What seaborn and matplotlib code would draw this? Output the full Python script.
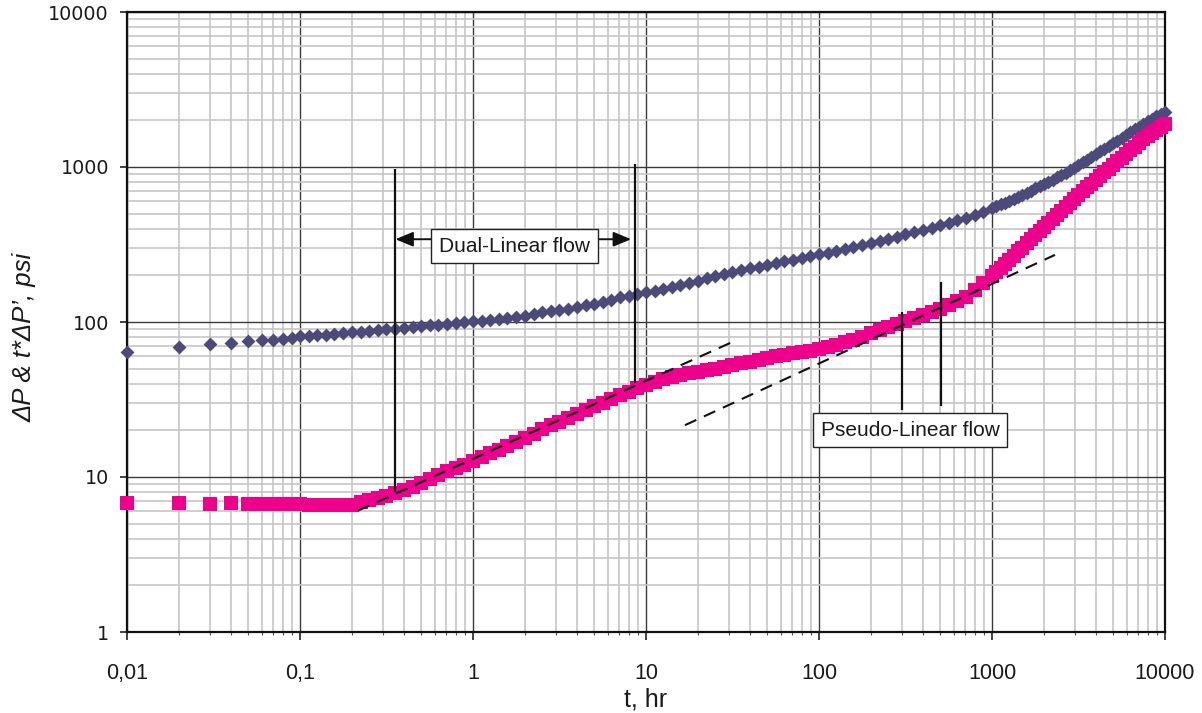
import numpy as np
import pandas as pd
import matplotlib
matplotlib.use("Agg")
import matplotlib.pyplot as plt
import seaborn as sns
from matplotlib import font_manager as fm
from matplotlib.ticker import LogLocator

# ---------------- data ----------------
T = [0.01, 0.02, 0.03, 0.04, 0.05, 0.06, 0.07, 0.08, 0.09,
     0.1, 0.112, 0.126, 0.141, 0.158, 0.178, 0.2, 0.224, 0.251, 0.282,
     0.316, 0.355, 0.398, 0.447, 0.501, 0.562, 0.631, 0.708, 0.794, 0.891,
     1, 1.12, 1.26, 1.41, 1.58, 1.78, 2, 2.24, 2.51, 2.82,
     3.16, 3.55, 3.98, 4.47, 5.01, 5.62, 6.31, 7.08, 7.94, 8.91,
     10, 11.2, 12.6, 14.1, 15.8, 17.8, 20, 22.4, 25.1, 28.2,
     31.6, 35.5, 39.8, 44.7, 50.1, 56.2, 63.1, 70.8, 79.4, 89.1,
     100, 112, 126, 141, 158, 178, 200, 224, 251, 282,
     316, 355, 398, 447, 501, 562, 631, 708, 794, 891,
     1000, 1059, 1122, 1189, 1259, 1334, 1413, 1496, 1585, 1679,
     1778, 1884, 1995, 2113, 2239, 2371, 2512, 2661, 2818, 2985,
     3162, 3350, 3548, 3758, 3981, 4217, 4467, 4732, 5012, 5309,
     5623, 5957, 6310, 6683, 7079, 7499, 7943, 8414, 8913, 9441, 10000]

DELTA_P = [64, 69, 72, 73.5, 75.5, 76.5, 77, 78, 78.5,
           81, 81, 82, 83, 84, 85, 86, 86.5, 87.5, 88.5,
           89.5, 90.5, 91.5, 93, 94, 95, 96, 97, 98.5, 100,
           101, 102, 103.5, 105, 106.5, 108, 110, 113, 116, 118,
           120, 122, 125, 128, 131, 135, 139, 144, 148, 151,
           155, 159, 163, 167, 172, 179, 185, 191, 197, 204,
           210, 217, 223, 228, 234, 240, 246, 252, 259, 266,
           273, 280, 288, 296, 305, 314, 325, 334, 344, 356,
           370, 382, 394, 405, 420, 434, 452, 470, 488, 512,
           540, 557, 573, 590, 606, 622, 640, 660, 682, 705,
           728, 752, 777, 800, 828, 857, 887, 920, 953, 989,
           1030, 1072, 1116, 1162, 1210, 1260, 1311, 1365, 1422, 1480,
           1541, 1604, 1675, 1750, 1825, 1900, 1980, 2050, 2120, 2200, 2280]

DERIV = [6.75, 6.75, 6.7, 6.75, 6.7, 6.7, 6.7, 6.7, 6.65,
         6.65, 6.6, 6.55, 6.55, 6.55, 6.55, 6.6, 6.9, 7.1, 7.3,
         7.55, 7.85, 8.2, 8.6, 9.1, 9.7, 10.3, 10.9, 11.4, 12.0,
         12.7, 13.4, 14.2, 15.0, 15.9, 16.8, 17.8, 19.0, 20.3, 21.5,
         22.8, 24.2, 25.6, 27.1, 28.6, 30.2, 31.9, 33.6, 35.5, 37.3,
         39.3, 41.3, 43.0, 44.5, 45.8, 46.8, 47.8, 48.9, 50.1, 51.4,
         52.7, 54.1, 55.6, 57.1, 58.7, 60.2, 61.7, 62.9, 64.0, 65.4,
         67, 69, 71.3, 74, 77, 80.5, 84.5, 88.5, 92.5, 97,
         101.5, 106, 111, 116, 122, 128, 136, 146, 160, 178,
         198, 210, 223, 237, 252, 268, 285, 302, 321, 341,
         362, 385, 409, 434, 462, 490, 521, 553, 588, 624,
         660, 698, 738, 780, 825, 872, 923, 976, 1030, 1087,
         1148, 1212, 1279, 1350, 1425, 1505, 1580, 1660, 1743, 1815, 1890]

# straight-line fits (half-slope)
DUAL_FIT_T = [0.216, 31.3]
DUAL_FIT_V = [6.06, 74]
PSEUDO_FIT_T = [16.8, 2312]
PSEUDO_FIT_V = [21.6, 271]

# vertical markers
VLINE_T = [0.354, 8.63, 300, 505]
VLINE_LO = [8.0, 40.2, 27.1, 28.7]
VLINE_HI = [971, 1045, 116, 182]

# annotation
ARROW_V = 342
DUAL_BOX_EDGES_T = [0.587, 5.14]
DUAL_ARROW_TIPS_T = [0.356, 8.2]
DUAL_LABEL = ("Dual-Linear flow", 1.74, 309)
PSEUDO_LABEL = ("Pseudo-Linear flow", 336, 20.1)

XTICKS = [0.01, 0.1, 1, 10, 100, 1000, 10000]
XTICK_LABELS = ["0,01", "0,1", "1", "10", "100", "1000", "10000"]
YTICKS = [1, 10, 100, 1000, 10000]
YTICK_LABELS = ["1", "10", "100", "1000", "10000"]

C_DP = "#4b4a7a"
C_DER = "#ec008c"

# ---------------- styling ----------------
sns.set_style("white")
avail = {f.name for f in fm.fontManager.ttflist}


def pick(*names):
    for n in names:
        if n in avail:
            return n
    return "DejaVu Sans"


NARROW = pick("Liberation Sans Narrow", "Liberation Sans")
WIDE = pick("DejaVu Sans")
ARIAL = pick("Liberation Sans", "Arimo", "DejaVu Sans")
plt.rcParams["font.family"] = [ARIAL, "DejaVu Sans"]

fig = plt.figure(figsize=(12.02, 7.13), dpi=100)
ax = fig.add_axes([127 / 1202, 1 - 632 / 713, 1038 / 1202, 620 / 713])
ax.set_xscale("log")
ax.set_yscale("log")

df = pd.DataFrame({"t": T, "dp": DELTA_P, "der": DERIV})
sns.scatterplot(data=df, x="t", y="dp", marker="D", s=50, color=C_DP,
                linewidth=0, ax=ax, zorder=3, legend=False, clip_on=False)
sns.scatterplot(data=df, x="t", y="der", marker="s", s=90, color=C_DER,
                linewidth=0, ax=ax, zorder=4, legend=False, clip_on=False)

sns.lineplot(x=DUAL_FIT_T, y=DUAL_FIT_V, ax=ax, color="#111111", lw=1.5,
             linestyle=(0, (6, 4)), zorder=5, legend=False)
sns.lineplot(x=PSEUDO_FIT_T, y=PSEUDO_FIT_V, ax=ax, color="#111111", lw=1.5,
             linestyle=(0, (6, 4)), zorder=5, legend=False)

ax.vlines(VLINE_T, VLINE_LO, VLINE_HI, colors="#111111", lw=1.6, zorder=5)

for start, tip in zip(DUAL_BOX_EDGES_T, DUAL_ARROW_TIPS_T):
    ax.annotate("", xy=(tip, ARROW_V), xytext=(start, ARROW_V),
                arrowprops=dict(arrowstyle="-|>,head_length=0.6,head_width=0.25",
                                color="#111111", lw=1.4,
                                mutation_scale=18, shrinkA=0, shrinkB=0),
                zorder=6)

for txt, tx, ty in (DUAL_LABEL, PSEUDO_LABEL):
    ax.text(tx, ty, txt, ha="center", va="center", fontfamily=NARROW,
            fontsize=15, color="#1a1a1a", zorder=7,
            bbox=dict(boxstyle="square,pad=0.38", fc="white", ec="#222222", lw=1.0))

ax.set_xlim(0.01, 10000)
ax.set_ylim(1, 10000)

ax.xaxis.set_minor_locator(LogLocator(base=10, subs=np.arange(2, 10), numticks=100))
ax.yaxis.set_minor_locator(LogLocator(base=10, subs=np.arange(2, 10), numticks=100))
ax.set_xticks(XTICKS)
ax.set_xticklabels(XTICK_LABELS, fontfamily=NARROW, fontsize=15.5, color="#1a1a1a")
ax.set_yticks(YTICKS)
ax.set_yticklabels(YTICK_LABELS, fontfamily=WIDE, fontsize=13.8, color="#1a1a1a")
ax.xaxis.set_minor_formatter(plt.NullFormatter())
ax.yaxis.set_minor_formatter(plt.NullFormatter())

ax.grid(which="minor", color="#c6c6c6", lw=1.2)
ax.grid(which="major", color="#3a3a3a", lw=1.0)
ax.set_axisbelow(True)

ax.tick_params(axis="x", which="major", bottom=True, direction="out",
               length=6, width=1.2, pad=16, color="#222222")
ax.tick_params(axis="x", which="minor", bottom=True, direction="out",
               length=2.5, width=0.8, color="#555555")
ax.tick_params(axis="y", which="major", left=True, direction="out",
               length=5, width=1.2, pad=8, color="#222222")
ax.tick_params(axis="y", which="minor", left=False, length=0)

for s in ax.spines.values():
    s.set_visible(True)
    s.set_color("#111111")
    s.set_linewidth(1.6)
    s.set_zorder(2.5)

ax.set_xlabel("t, hr", fontfamily=NARROW, fontsize=18, color="#1a1a1a")
ax.xaxis.set_label_coords(0.5, -0.09)
ax.set_ylabel("ΔP & t*ΔP’, psi", fontfamily=[ARIAL, "DejaVu Sans"],
              fontstyle="italic", fontsize=18.5, color="#1a1a1a")
ax.yaxis.set_label_coords(-0.087, 0.475)

fig.savefig("out.png", dpi=100)
